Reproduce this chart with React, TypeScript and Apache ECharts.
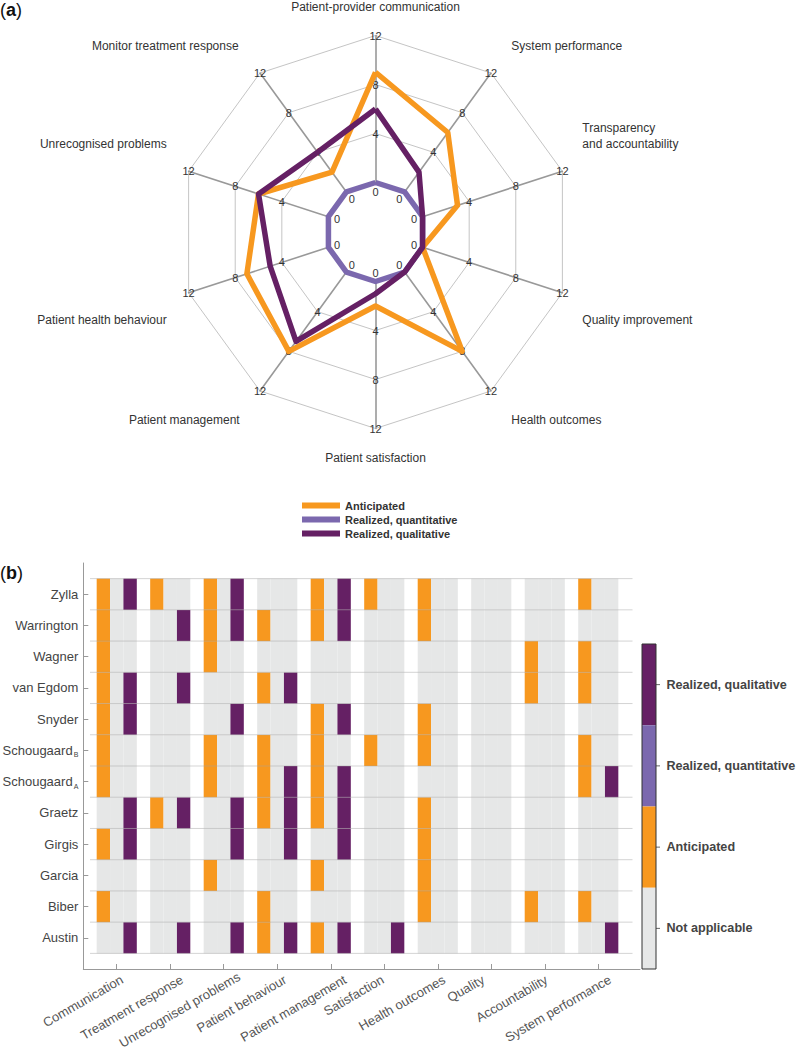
import React, { useEffect, useRef } from 'react';
import * as echarts from 'echarts';

// ---------- Panel (a): radar ----------
const radarIndicators = [
  'Patient-provider communication',
  'Monitor treatment response',
  'Unrecognised problems',
  'Patient health behaviour',
  'Patient management',
  'Patient satisfaction',
  'Health outcomes',
  'Quality improvement',
  'Transparency\nand accountability',
  'System performance',
];
const radarMax = 12;
const anticipatedCounts = [9, 2, 6, 7, 8, 2, 8, 0, 3, 6];
const quantitativeCounts = [0, 0, 0, 0, 0, 0, 0, 0, 0, 0];
const qualitativeCounts = [6, 4, 6, 5, 7, 1, 0, 0, 0, 2];

// ---------- Panel (b): study grid ----------
const studies = [
  'Austin', 'Biber', 'Garcia', 'Girgis', 'Graetz', 'Schougaard_A',
  'Schougaard_B', 'Snyder', 'van Egdom', 'Wagner', 'Warrington', 'Zylla',
];
const outcomeCategories = [
  'Communication', 'Treatment response', 'Unrecognised problems', 'Patient behaviour',
  'Patient management', 'Satisfaction', 'Health outcomes', 'Quality',
  'Accountability', 'System performance',
];
// per study (bottom to top), per category: A = anticipated, Q = realized quantitative, R = realized qualitative
const studyOutcomes: string[][] = [
  ['R', 'R', 'R', 'AR', 'AR', 'R', '', '', '', 'R'],       // Austin
  ['A', '', '', 'A', '', '', 'A', '', 'A', 'A'],           // Biber
  ['', '', 'A', '', 'A', '', 'A', '', '', ''],             // Garcia
  ['AR', '', 'R', 'R', 'R', '', 'A', '', '', ''],          // Girgis
  ['R', 'AR', 'R', 'AR', 'AR', '', 'A', '', '', ''],       // Graetz
  ['A', '', 'A', 'AR', 'AR', '', '', '', '', 'AR'],        // Schougaard A
  ['A', '', 'A', 'A', 'A', 'A', 'A', '', '', 'A'],         // Schougaard B
  ['AR', '', 'R', '', 'AR', '', 'A', '', '', ''],          // Snyder
  ['AR', 'R', '', 'AR', '', '', '', '', 'A', 'A'],         // van Egdom
  ['A', '', 'A', '', '', '', '', '', 'A', 'A'],            // Wagner
  ['A', 'R', 'AR', 'A', 'AR', '', 'A', '', '', ''],        // Warrington
  ['AR', 'A', 'AR', '', 'AR', 'A', 'A', '', '', 'A'],      // Zylla
];
const slotCodes = ['A', 'Q', 'R'];
const statusNames = ['Not applicable', 'Anticipated', 'Realized, quantitative', 'Realized, qualitative'];

// layout: nudge (px) of each rotated x label, as in the reference
const xLabelShift = [5.3, 11.7, 16.4, 8.1, 14.4, -1.5, 6.4, -8, 1.7, 11.7];
const xLabelLift = [0, 0, 3.5, 0, 0, 0, 0, 0, 0, 0];

const ORANGE = '#F7981F';
const LPURPLE = '#7B68AE';
const DPURPLE = '#652064';
const GREY = '#E6E7E7';
const statusColors = [GREY, ORANGE, LPURPLE, DPURPLE];
const FONT = '"Liberation Sans", Arial, Helvetica, sans-serif';

function buildCells() {
  const out: number[][] = [];
  studyOutcomes.forEach((row, r) => {
    row.forEach((code, c) => {
      slotCodes.forEach((letter, s) => {
        out.push([c + 1 + (s - 1) * 0.25, r + 1, code.indexOf(letter) >= 0 ? s + 1 : 0]);
      });
    });
  });
  return out;
}

const nameRich: Record<string, any> = {
  n0: { padding: [0, 0, 0, 0] },
  n1: { padding: [0, 9, 21, 0] },
  n2: { padding: [0, 2, 42, 0] },
  n3: { padding: [42, 2, 0, 0] },
  n4: { padding: [24, 8, 0, 0] },
  n5: { padding: [0, 0, 0, 0] },
  n6: { padding: [24, 0, 0, 8] },
  n7: { padding: [42, 0, 0, 0] },
  t8: { padding: [0, 0, 0, 0] },
  n9: { padding: [0, 0, 21, 8] },
};
Object.keys(nameRich).forEach((k) => {
  nameRich[k] = { ...nameRich[k], fontSize: 12, lineHeight: 16, color: '#333', fontFamily: FONT };
});
nameRich.gap = { fontSize: 1, lineHeight: 57, color: 'rgba(0,0,0,0)' };

function radarNameFormatter(name: string) {
  const i = radarIndicators.indexOf(name);
  if (i === 8) {
    const parts = name.split('\n');
    return `{t8|${parts[0]}}\n{t8|${parts[1]}}\n{gap| }`;
  }
  return `{n${i}|${name}}`;
}

function yLabel(v: number) {
  const name = studies[Math.round(v) - 1];
  if (!name) return '';
  const k = name.indexOf('_');
  if (k >= 0) return `${name.slice(0, k)}{sub|${name.slice(k + 1)}}`;
  return name;
}

const X_LABEL_MARGIN = -20;
const X_LABEL_DROP = 29.5; // px from the anchor to the label end, downward
const xRich: Record<string, any> = {};
xLabelShift.forEach((dx, i) => {
  const a = Math.PI / 6;
  const dy = X_LABEL_DROP - xLabelLift[i];
  const alpha = dx * Math.cos(a) - dy * Math.sin(a);
  const beta = dx * Math.sin(a) + dy * Math.cos(a);
  xRich['x' + i] = { fontSize: 13, color: '#555', fontFamily: FONT, padding: [2 * beta, Math.max(0, -alpha), 0, 0] };
});

function xLabel(v: number) {
  const i = Math.round(v) - 1;
  const name = outcomeCategories[i];
  return name ? `{x${i}|${name}}` : '';
}

function buildOption() {
  const cells = buildCells();
  const rowLines = studies.map((_, i) => i + 0.5).concat([studies.length + 0.5]);
  const bar = { x: 642, top: 644, w: 14, segH: 81.25 };
  const barOrder = [3, 2, 1, 0];
  const graphic: any[] = [
    {
      type: 'text', x: 0, y: 10,
      style: {
        text: '{p|(}{b|a}{p|)}', verticalAlign: 'middle', align: 'left',
        rich: { p: { fontSize: 18, fill: '#111', fontFamily: FONT }, b: { fontSize: 18, fontWeight: 'bold', fill: '#111', fontFamily: FONT } },
      },
    },
    {
      type: 'text', x: 0, y: 573,
      style: {
        text: '{p|(}{b|b}{p|)}', verticalAlign: 'middle', align: 'left',
        rich: { p: { fontSize: 18, fill: '#111', fontFamily: FONT }, b: { fontSize: 18, fontWeight: 'bold', fill: '#111', fontFamily: FONT } },
      },
    },
  ];
  barOrder.forEach((st, k) => {
    const y0 = bar.top + k * bar.segH;
    graphic.push({ type: 'rect', shape: { x: bar.x, y: y0, width: bar.w, height: bar.segH }, style: { fill: statusColors[st] } });
    graphic.push({ type: 'line', shape: { x1: bar.x + bar.w, y1: y0 + bar.segH / 2, x2: bar.x + bar.w + 4, y2: y0 + bar.segH / 2 }, style: { stroke: '#666', lineWidth: 1 } });
    graphic.push({
      type: 'text', x: 666.5, y: y0 + bar.segH / 2,
      style: { text: statusNames[st], fill: '#444', font: `bold 12.6px ${FONT}`, verticalAlign: 'middle', align: 'left' },
    });
  });
  graphic.push({ type: 'rect', shape: { x: bar.x, y: bar.top, width: bar.w, height: bar.segH * 4 }, style: { fill: 'none', stroke: '#333', lineWidth: 1 } });

  const radarCommon = {
    center: [375.5, 232],
    shape: 'polygon',
    startAngle: 90,
    splitNumber: 3,
    indicator: radarIndicators.map((n) => ({ name: n, min: 0, max: radarMax })),
  };

  return {
    animation: false,
    textStyle: { fontFamily: FONT },
    radar: [
      {
        ...radarCommon,
        radius: [49.5, 196.5],
        nameGap: 21,
        axisName: { color: '#333', fontSize: 12, lineHeight: 16, formatter: radarNameFormatter, rich: nameRich },
        axisLine: { lineStyle: { color: '#999', width: 1.6 } },
        splitLine: { lineStyle: { color: '#b5b5b5', width: 0.8 } },
        splitArea: { show: false },
        axisTick: { show: false },
        axisLabel: {
          show: true, margin: 0, align: 'center', verticalAlign: 'middle',
          color: '#333', fontSize: 11,
          formatter: (v: number) => (v === 0 ? '' : String(v)),
        },
      },
      {
        ...radarCommon,
        indicator: radarIndicators.map(() => ({ name: '', min: 0, max: radarMax })),
        radius: [40.5, 190],
        axisName: { show: false },
        axisLine: { show: false },
        splitLine: { show: false },
        splitArea: { show: false },
        axisTick: { show: false },
        axisLabel: {
          show: true, margin: 0, align: 'center', verticalAlign: 'middle',
          color: '#333', fontSize: 11,
          formatter: (v: number) => (v === 0 ? '0' : ''),
        },
      },
    ],
    legend: {
      data: ['Anticipated', 'Realized, quantitative', 'Realized, qualitative'],
      orient: 'vertical', left: 302, top: 499, padding: 0,
      itemWidth: 38, itemHeight: 6, itemGap: 1, icon: 'rect', selectedMode: false,
      textStyle: { fontSize: 11, fontWeight: 'bold', color: '#333', lineHeight: 13, fontFamily: FONT },
    },
    grid: { left: 83.3, top: 563, width: 556.7, height: 406, containLabel: false, outerBoundsMode: 'none' },
    xAxis: {
      type: 'value', min: 0.375, max: 10.78,
      axisLine: { lineStyle: { color: '#999', width: 1 } },
      axisTick: { show: true, inside: true, length: 5, customValues: outcomeCategories.map((_, i) => i + 1), lineStyle: { color: '#999' } },
      axisLabel: {
        customValues: outcomeCategories.map((_, i) => i + 1),
        rotate: 30, margin: X_LABEL_MARGIN, fontSize: 13, color: '#555',
        formatter: xLabel,
        rich: xRich,
      },
      splitLine: { show: false },
    },
    yAxis: {
      type: 'value', min: 0, max: 13,
      axisLine: { show: true, lineStyle: { color: '#999', width: 1 } },
      axisTick: { show: true, inside: true, length: 5, customValues: studies.map((_, i) => i + 1), lineStyle: { color: '#999' } },
      axisLabel: {
        customValues: studies.map((_, i) => i + 1),
        margin: 5, fontSize: 13, color: '#444',
        formatter: yLabel,
        rich: { sub: { fontSize: 7, color: '#444', padding: [9, 0, 0, 1] } },
      },
      splitLine: { show: false },
    },
    series: [
      {
        type: 'radar',
        radarIndex: 0,
        symbol: 'none',
        data: [
          { name: 'Realized, quantitative', value: quantitativeCounts, lineStyle: { color: LPURPLE, width: 5.5 }, itemStyle: { color: LPURPLE } },
          { name: 'Anticipated', value: anticipatedCounts, lineStyle: { color: ORANGE, width: 5.5 }, itemStyle: { color: ORANGE } },
          { name: 'Realized, qualitative', value: qualitativeCounts, lineStyle: { color: DPURPLE, width: 5.5 }, itemStyle: { color: DPURPLE } },
        ],
      },
      {
        type: 'custom',
        name: 'cells',
        data: cells,
        encode: { x: 0, y: 1 },
        renderItem: (params: any, api: any) => {
          const x = api.value(0);
          const y = api.value(1);
          const p1 = api.coord([x - 0.125, y + 0.5]);
          const p2 = api.coord([x + 0.125, y - 0.5]);
          return {
            type: 'rect',
            shape: { x: p1[0], y: p1[1], width: p2[0] - p1[0], height: p2[1] - p1[1] },
            style: { fill: statusColors[api.value(2)] },
          };
        },
        z: 2,
      },
      {
        type: 'custom',
        name: 'rows',
        data: rowLines.map((v) => [v]),
        encode: { y: 0 },
        renderItem: (params: any, api: any) => {
          const y = api.value(0);
          const a = api.coord([0.5, y]);
          const b = api.coord([10.64, y]);
          return {
            type: 'line',
            shape: { x1: a[0], y1: a[1], x2: b[0], y2: b[1] },
            style: { stroke: 'rgba(160,160,160,0.45)', lineWidth: 1 },
          };
        },
        z: 3,
      },
    ],
    graphic,
  };
}

export default function App() {
  const ref = useRef<HTMLDivElement>(null);
  useEffect(() => {
    const chart = echarts.init(ref.current!, null, { renderer: 'svg' });
    chart.setOption(buildOption() as any);
    return () => chart.dispose();
  }, []);
  return (
    <div
      ref={ref}
      style={{ position: 'absolute', left: 0, top: 0, width: 798, height: 1049, background: '#fff' }}
    />
  );
}
